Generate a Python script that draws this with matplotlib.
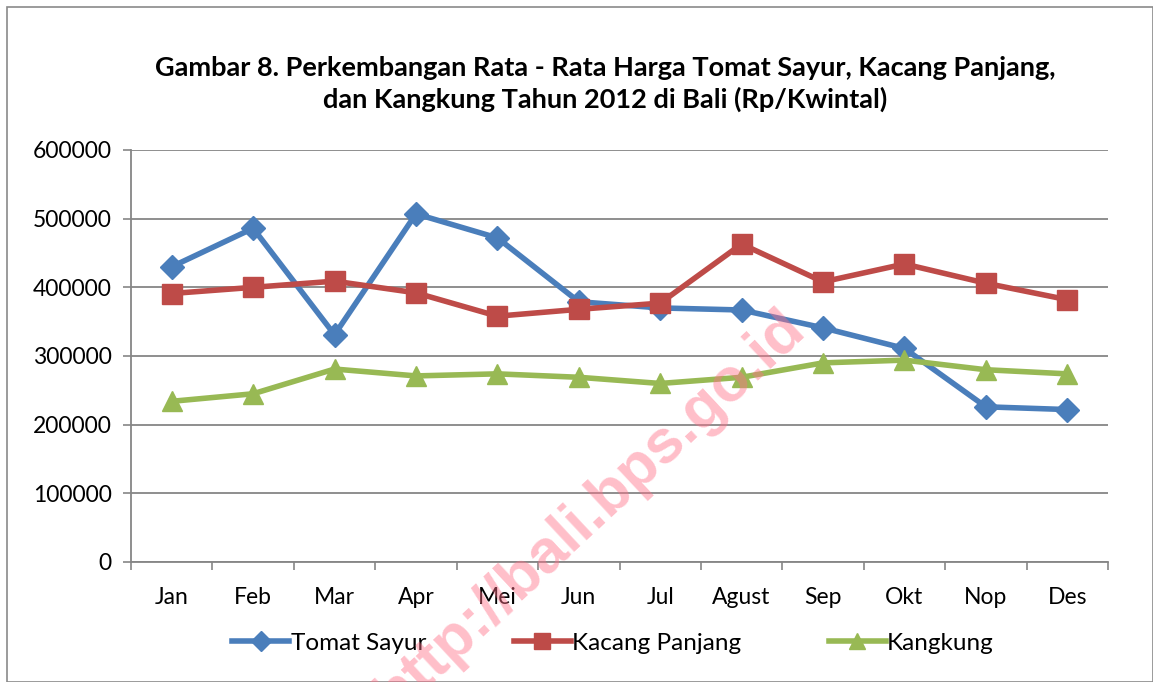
import matplotlib
matplotlib.use("Agg")
import matplotlib.pyplot as plt
import numpy as np
from matplotlib.patches import Rectangle

months = ["Jan", "Feb", "Mar", "Apr", "Mei", "Jun", "Jul", "Agust", "Sep", "Okt", "Nop", "Des"]
tomat_sayur = [430000, 486000, 331000, 507000, 472000, 379000, 370000, 367000, 341000, 311000, 226000, 222000]
kacang_panjang = [391000, 400000, 409000, 392000, 358000, 368000, 377000, 463000, 408000, 434000, 406000, 382000]
kangkung = [234000, 245000, 281000, 271000, 274000, 269000, 260000, 269000, 290000, 294000, 280000, 274000]
yticks = [0, 100000, 200000, 300000, 400000, 500000, 600000]

plt.rcParams['font.family'] = ['Lato', 'DejaVu Sans']

W, H = 1153, 682
fig = plt.figure(figsize=(W/100, H/100), dpi=100)
fig.patches.append(Rectangle((7/W, 0), (W-7)/W, (H-7)/H, transform=fig.transFigure,
                             fill=False, edgecolor='#8a8a8a', lw=1.2))

ax = fig.add_axes([131/W, 1-562/H, (1108-131)/W, (562-150)/H])
x = np.arange(len(months))
ax.plot(x, tomat_sayur, color='#4a7ebb', lw=4, marker='D', ms=12.5, label='Tomat Sayur', zorder=3)
ax.plot(x, kacang_panjang, color='#be4b48', lw=4, marker='s', ms=15, label='Kacang Panjang', zorder=3)
ax.plot(x, kangkung, color='#98b954', lw=4, marker='^', ms=15, label='Kangkung', zorder=3)

ax.set_xlim(-0.5, 11.5)
ax.set_ylim(0, 600000)
ax.set_yticks(yticks)
ax.set_yticklabels([str(v) for v in yticks], fontsize=16.5)
ax.set_xticks(x)
ax.set_xticklabels(months, fontsize=16.5)
ax.set_xticks(np.arange(-0.5, 12, 1), minor=True)
ax.tick_params(axis='x', which='major', length=0, pad=18)
ax.tick_params(axis='x', which='minor', length=6, color='#868686', width=1.2, direction='out')
ax.tick_params(axis='y', length=6, color='#868686', width=1.2, pad=8)
ax.grid(axis='y', color='#868686', lw=1.3)
ax.set_axisbelow(True)
for s in ['top', 'right']:
    ax.spines[s].set_visible(False)
for s in ['left', 'bottom']:
    ax.spines[s].set_color('#868686')
    ax.spines[s].set_linewidth(1.3)

fig.text(605/W, 1-84/H, "Gambar 8. Perkembangan Rata - Rata Harga Tomat Sayur, Kacang Panjang,\ndan Kangkung Tahun 2012 di Bali (Rp/Kwintal)",
         ha='center', va='center', fontsize=19.5, fontweight='bold', linespacing=1.3)

leg = fig.legend(loc='center', bbox_to_anchor=(613/W, 1-643/H), ncol=3, frameon=False,
                 fontsize=17.5, handlelength=2.35, handletextpad=0.05, columnspacing=3.6,
                 markerscale=0.8)

fig.text(590/W, 1-512/H, "http://bali.bps.go.id", rotation=43, ha='center', va='center',
         fontsize=44, fontweight='bold', color='#ff7088', alpha=0.45, zorder=10,
         family=['Liberation Sans', 'DejaVu Sans'])

fig.savefig("out.png", dpi=100)
